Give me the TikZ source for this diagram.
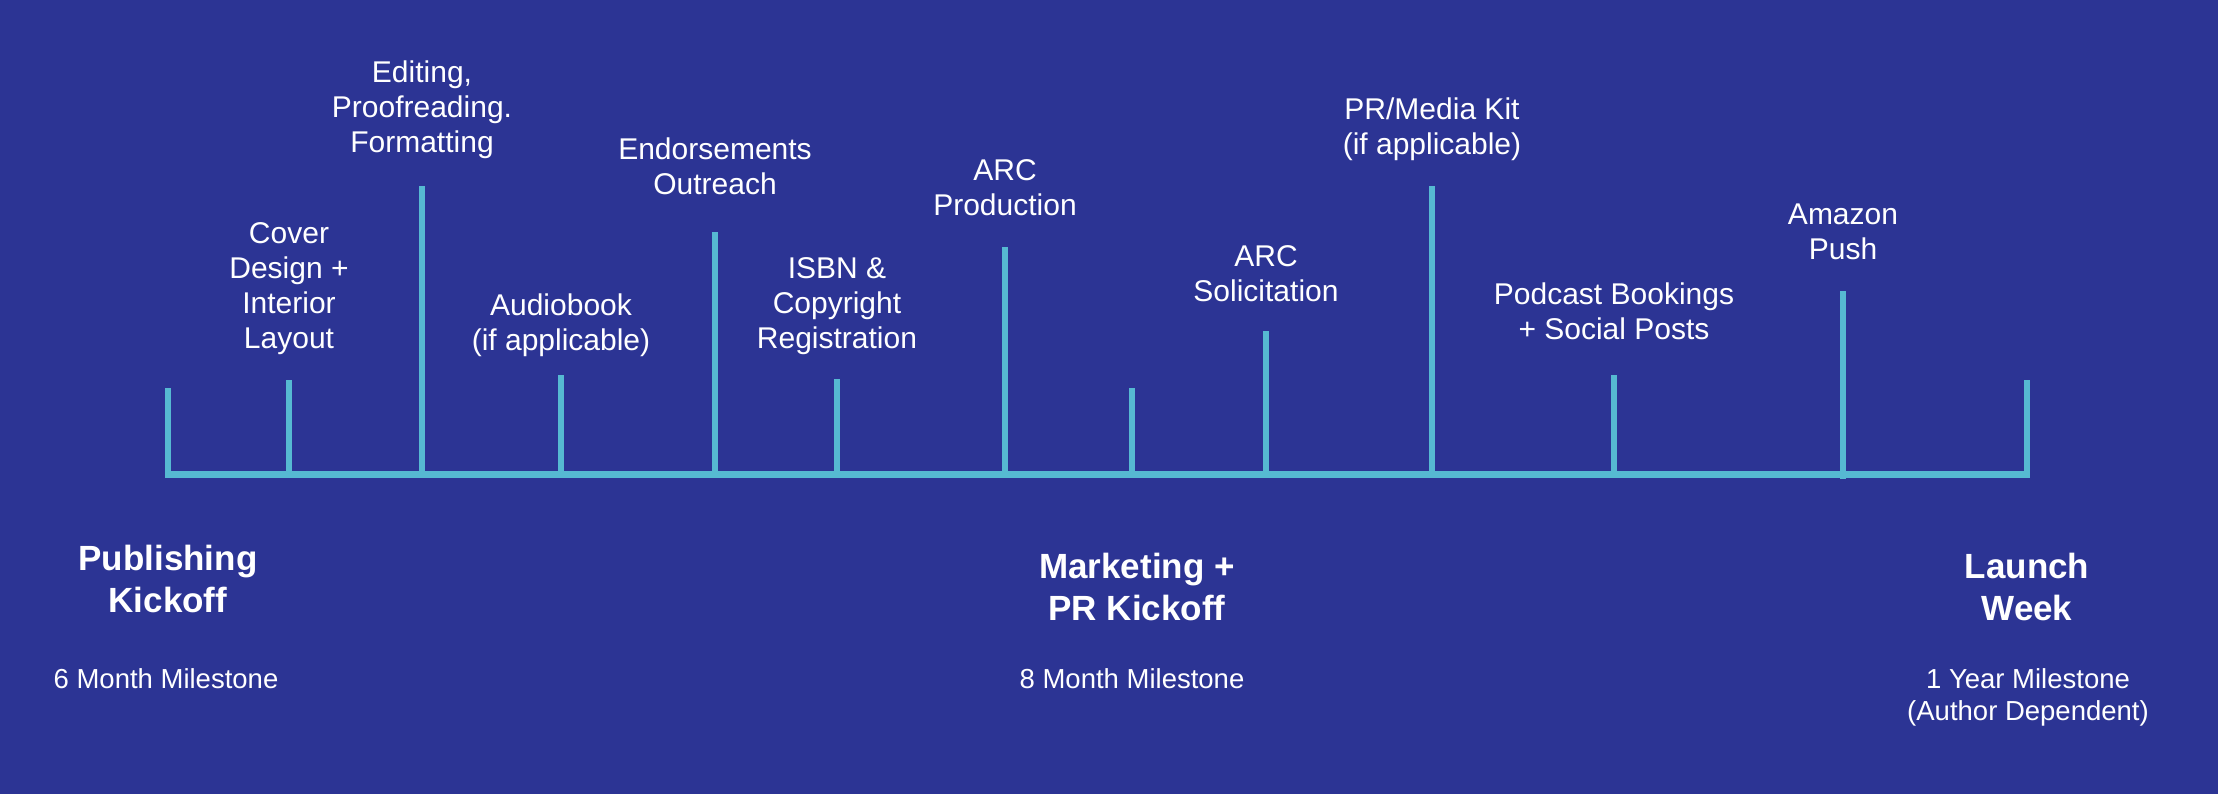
\documentclass[tikz,border=0pt]{standalone}
\usepackage{fontspec}
\setmainfont{Liberation Sans}
\definecolor{bgc}{RGB}{44,52,148}
\definecolor{linec}{RGB}{86,185,210}
\begin{document}
\begin{tikzpicture}[x=0.5pt,y=-0.5pt,
  tickline/.style={draw=linec, line width=3pt, line cap=butt},
  axisline/.style={draw=linec, line width=3.5pt, line cap=butt},
  lbl/.style={text=white, align=center, anchor=north, inner sep=0pt, font=\fontsize{15}{17.5}\selectfont},
  head/.style={lbl, font=\fontsize{17.5}{21}\selectfont\bfseries},
  mile/.style={lbl, font=\fontsize{13.75}{16}\selectfont}]
\fill[bgc] (0,0) rectangle (2218,794);
\useasboundingbox (0,0) rectangle (2218,794);
% ticks
\foreach \i/\x/\t/\b in {1/168/388/477.5, 2/289/380/477.5, 3/422/186/477.5, 4/561/375/477.5,
  5/715/232/477.5, 6/837/379/477.5, 7/1005/247/477.5, 8/1132/388/477.5, 9/1266/331/477.5,
  10/1432/186/477.5, 11/1614/375/477.5, 12/1843/291/479, 13/2027/380/477.5} {
  \coordinate (t\i) at (\x,\t);
  \coordinate (b\i) at (\x,\b);
  \draw[tickline] (b\i) -- (t\i);
}
\coordinate (axL) at (165,474);
\coordinate (axR) at (2030,474);
\draw[axisline] (axL) -- (axR);
% labels above
\node[lbl] (cover) at (289,222) {Cover\\Design +\\Interior\\Layout};
\node[lbl] (edit) at (422,60) {Editing,\\Proofreading.\\Formatting};
\node[lbl] (audio) at (561,293) {Audiobook\\(if applicable)};
\node[lbl] (endorse) at (715,137) {Endorsements\\Outreach};
\node[lbl] (isbn) at (837,257) {ISBN \&\\Copyright\\Registration};
\node[lbl] (arcprod) at (1005,159) {ARC\\Production};
\node[lbl] (arcsol) at (1266,245) {ARC\\Solicitation};
\node[lbl] (prkit) at (1432,97) {PR/Media Kit\\(if applicable)};
\node[lbl] (podcast) at (1614,282) {Podcast Bookings\\+ Social Posts};
\node[lbl] (amazon) at (1843,203) {Amazon\\Push};
% headings below
\node[head] (pubkick) at (168,545) {Publishing\\Kickoff};
\node[head] (mktkick) at (1137,553) {Marketing +\\PR Kickoff};
\node[head] (launch) at (2027,553) {Launch\\Week};
\node[mile] (m6) at (166,668) {6 Month Milestone};
\node[mile] (m8) at (1132,668) {8 Month Milestone};
\node[mile] (m12) at (2028,668) {1 Year Milestone\\(Author Dependent)};
\end{tikzpicture}
\end{document}
